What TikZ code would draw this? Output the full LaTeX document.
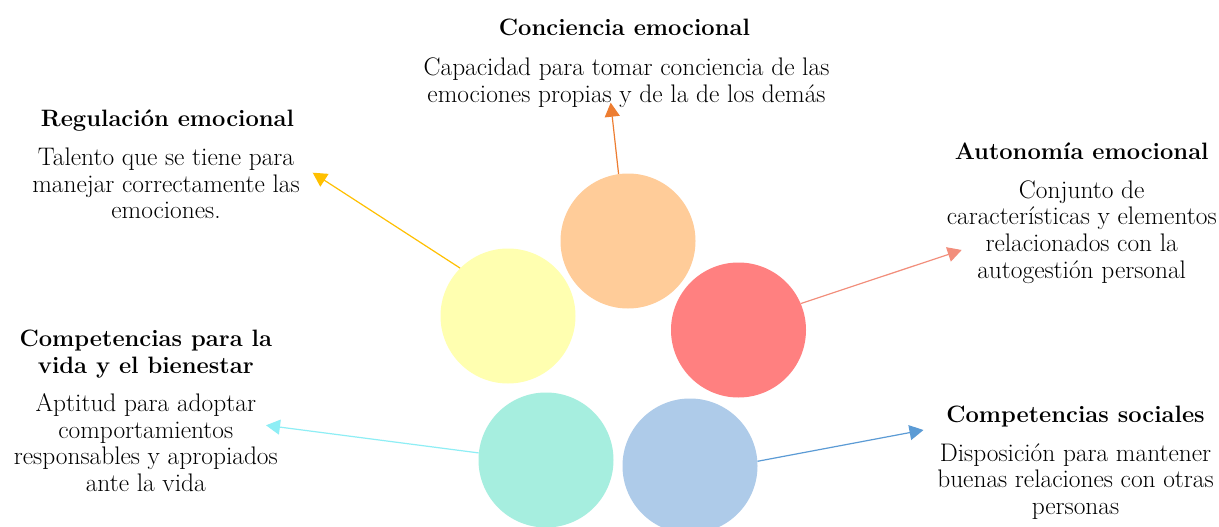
\documentclass[tikz,border=0pt]{standalone}
\usetikzlibrary{arrows.meta}
\definecolor{cPeach}{HTML}{FFCC99}
\definecolor{cRed}{HTML}{FF8080}
\definecolor{cYellow}{HTML}{FFFFB0}
\definecolor{cTeal}{HTML}{A6EEDF}
\definecolor{cBlue}{HTML}{AECBE9}
\definecolor{aOrange}{HTML}{ED7D31}
\definecolor{aGold}{HTML}{FFC000}
\definecolor{aSalmon}{HTML}{F28E7C}
\definecolor{aCyan}{HTML}{8EEEF5}
\definecolor{aBlue}{HTML}{5B9BD5}
\tikzset{
  bubble/.style={circle, minimum size=135pt, inner sep=0pt, draw=none},
  conn/.style={line width=1.2pt, -{Triangle[length=14pt,width=15pt]}},
  txt/.style={inner sep=0pt, anchor=base, text=black, font=\fontsize{25.4}{26.6}\selectfont},
  ttl/.style={txt, font=\fontsize{23.7}{26.6}\selectfont\bfseries}
}
\newcommand{\lines}[1]{\begin{tabular}[t]{@{}c@{}}#1\end{tabular}}
\begin{document}
\begin{tikzpicture}[x=1pt,y=-1pt]
\clip (0,0) rectangle (1219,527);
\fill[white] (0,0) rectangle (1219,527);
% circles
\node[bubble, fill=cPeach]  (cc) at (628,241) {};
\node[bubble, fill=cRed]    (ca) at (738.5,330) {};
\node[bubble, fill=cYellow] (cr) at (508,316) {};
\node[bubble, fill=cTeal]   (cv) at (546,460) {};
\node[bubble, fill=cBlue]   (cs) at (690,466) {};
% arrow tips
\coordinate (tc) at (610.7,102.7);
\coordinate (tr) at (312.7,172.7);
\coordinate (ta) at (961.7,250);
\coordinate (tv) at (266,425.3);
\coordinate (ts) at (923.5,430);
% connectors
\draw[conn, aOrange] (cc.98) -- (tc);
\draw[conn, aGold]   (cr.135) -- (tr);
\draw[conn, aSalmon] (ca.23) -- (ta);
\draw[conn, aCyan]   (cv.174) -- (tv);
\draw[conn, aBlue]   (cs.4) -- (ts);
% texts
\node[ttl] (hc) at (624.5,36) {\lines{Conciencia emocional}};
\node[txt] (bc) at (626.5,76) {\lines{Capacidad para tomar conciencia de las\\emociones propias y de la de los demás}};
\node[ttl] (hr) at (167.5,126.7) {\lines{Regulación emocional}};
\node[txt] (br) at (166,165.7) {\lines{Talento que se tiene para\\manejar correctamente las\\emociones.}};
\node[ttl] (ha) at (1081.7,159.3) {\lines{Autonomía emocional}};
\node[txt] (ba) at (1081.7,198.3) {\lines{Conjunto de\\características y elementos\\relacionados con la\\autogestión personal}};
\node[ttl] (hv) at (145.8,346.7) {\lines{Competencias para la\\vida y el bienestar}};
\node[txt] (bv) at (145.8,411.7) {\lines{Aptitud para adoptar\\comportamientos\\responsables y apropiados\\ante la vida}};
\node[ttl] (hs) at (1075.5,422) {\lines{Competencias sociales}};
\node[txt] (bs) at (1075.5,461) {\lines{Disposición para mantener\\buenas relaciones con otras\\personas}};
\end{tikzpicture}
\end{document}
